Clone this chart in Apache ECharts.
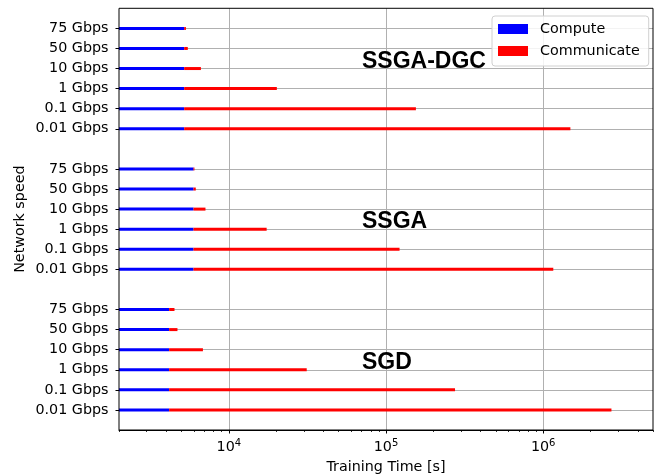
<!DOCTYPE html>
<html>
<head>
<meta charset="utf-8">
<script src="https://cdn.jsdelivr.net/npm/echarts@6/dist/echarts.min.js"></script>
<style>html,body{margin:0;padding:0;background:#fff;}#c{width:656px;height:476px;}</style>
</head>
<body>
<div id="c"></div>
<script>
const speeds = ['75 Gbps', '50 Gbps', '10 Gbps', '1 Gbps', '0.1 Gbps', '0.01 Gbps'];
const methods = ['SSGA-DGC', 'SSGA', 'SGD'];
const computeDGC = [5200, 5200, 5200, 5200, 5200, 5200];
const commDGC = [130, 280, 1440, 15000, 149800, 1485000];
const computeSSGA = [5960, 5960, 5960, 5960, 5960, 5960];
const commSSGA = [80, 200, 1140, 11440, 116000, 1154000];
const computeSGD = [4170, 4170, 4170, 4170, 4170, 4170];
const commSGD = [340, 540, 2670, 27130, 270800, 2715800];
const majorTicks = [1e4, 1e5, 1e6];
const minorTicks = [2000, 3000, 4000, 5000, 6000, 7000, 8000, 9000,
  20000, 30000, 40000, 50000, 60000, 70000, 80000, 90000,
  200000, 300000, 400000, 500000, 600000, 700000, 800000, 900000,
  2000000, 3000000, 4000000, 5000000];

const FONT = 'DejaVu Sans';
const FS = 14.3;
// build categories (top to bottom) with blank spacer rows
const groupsCompute = [computeDGC, computeSSGA, computeSGD];
const groupsComm = [commDGC, commSSGA, commSGD];
const cats = [], compData = [], commData = [];
cats.push(''); compData.push('-'); commData.push('-');
for (let g = 0; g < methods.length; g++) {
  for (let i = 0; i < speeds.length; i++) {
    cats.push(speeds[i]);
    compData.push(groupsCompute[g][i]);
    commData.push(groupsComm[g][i]);
  }
  cats.push(''); compData.push('-'); commData.push('-');
}

const chart = echarts.init(document.getElementById('c'));
chart.setOption({
  animation: false,
  backgroundColor: '#fff',
  textStyle: { fontFamily: FONT },
  grid: { left: 119, right: 3, top: 8.3, bottom: 46, containLabel: false, outerBoundsMode: 'none', show: true, borderColor: '#000', borderWidth: 1, z: 5, backgroundColor: 'transparent' },
  legend: {
    orient: 'vertical', left: 492, top: 16,
    data: ['Compute', 'Communicate'],
    icon: 'rect', itemWidth: 30, itemHeight: 10, itemGap: 8,
    padding: [6, 9, 8, 6],
    backgroundColor: 'rgba(255,255,255,0.85)',
    borderColor: '#d0d0d0', borderWidth: 1, borderRadius: 3,
    textStyle: { fontSize: FS, color: '#000', fontFamily: FONT, padding: [0, 0, 0, 7] }
  },
  xAxis: [{
    type: 'log', logBase: 10, min: 2000, max: 5e6, position: 'bottom',
    name: 'Training Time [s]', nameLocation: 'middle', nameGap: 30, nameMoveOverlap: false,
    nameTextStyle: { fontSize: FS, color: '#000', fontFamily: FONT },
    axisLine: { show: true, lineStyle: { color: '#000', width: 1 } },
    axisTick: { show: true, customValues: majorTicks, length: 3.5, lineStyle: { color: '#000', width: 1 } },
    axisLabel: {
      customValues: majorTicks, margin: 9, color: '#000',
      formatter: function (v) { return '{b|10}{s|' + Math.round(Math.log10(v)) + '}'; },
      rich: {
        b: { fontSize: FS, fontFamily: FONT, color: '#000', lineHeight: 16 },
        s: { fontSize: 10, fontFamily: FONT, color: '#000', lineHeight: 16, padding: [0, 0, 7, 0] }
      }
    },
    splitLine: { show: true, lineStyle: { color: '#b0b0b0', width: 1 } }
  }, {
    type: 'log', logBase: 10, min: 2000, max: 5e6, position: 'bottom',
    axisLine: { show: false },
    axisTick: { show: true, customValues: minorTicks, length: 2, lineStyle: { color: '#000', width: 0.8 } },
    axisLabel: { show: false },
    splitLine: { show: false }
  }],
  yAxis: {
    type: 'category', inverse: true, boundaryGap: false, data: cats,
    name: 'Network speed', nameLocation: 'middle', nameGap: 92, nameMoveOverlap: false,
    nameTextStyle: { fontSize: FS, color: '#000', fontFamily: FONT },
    axisLine: { show: false },
    axisTick: { show: true, length: 3.5, interval: function (i, v) { return v !== ''; }, lineStyle: { color: '#000', width: 1 } },
    axisLabel: { interval: 0, fontSize: FS, color: '#000', margin: 10.5, fontFamily: FONT },
    splitLine: { show: true, interval: function (i, v) { return v !== ''; }, lineStyle: { color: '#b0b0b0', width: 1 } }
  },
  series: [{
    name: 'Compute', type: 'bar', stack: 'total', barWidth: 3, xAxisIndex: 0,
    itemStyle: { color: '#0000ff' }, data: compData
  }, {
    name: 'Communicate', type: 'bar', stack: 'total', barWidth: 3, xAxisIndex: 0,
    itemStyle: { color: '#ff0000' }, data: commData
  }],
  graphic: [
    { type: 'text', left: 362, top: 50, z: 10, style: { text: methods[0], font: 'bold 23px "Liberation Sans"', fill: '#000' } },
    { type: 'text', left: 362, top: 210, z: 10, style: { text: methods[1], font: 'bold 23px "Liberation Sans"', fill: '#000' } },
    { type: 'text', left: 362, top: 351, z: 10, style: { text: methods[2], font: 'bold 23px "Liberation Sans"', fill: '#000' } }
  ]
});
</script>
</body>
</html>
